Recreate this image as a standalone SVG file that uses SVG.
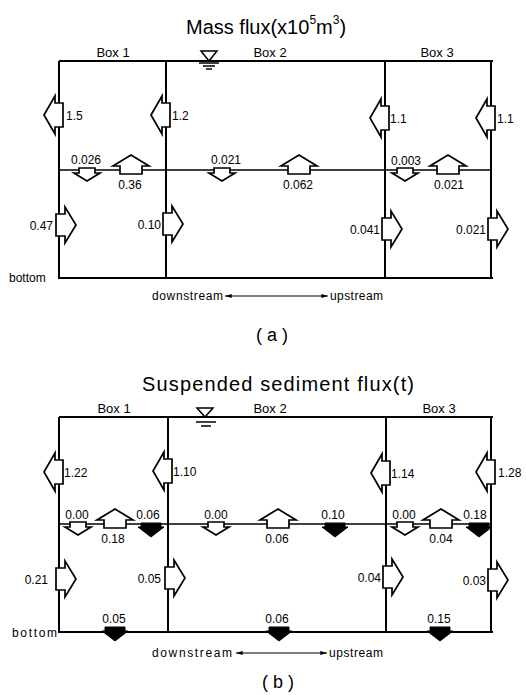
<svg xmlns="http://www.w3.org/2000/svg" width="526" height="695" viewBox="0 0 526 695">
<style>
text{font-family:"Liberation Sans","DejaVu Sans",Arial,sans-serif;fill:#000}
.t{font-size:20px}
.p{font-size:18px}
.b{font-size:13px}
.n{font-size:12px}
.c{text-anchor:middle}
.e{text-anchor:end}
.fr{fill:none;stroke:#000;stroke-width:2}
.mid{fill:none;stroke:#000;stroke-width:1.3}
.ar{fill:#fff;stroke:#000;stroke-width:1.7;stroke-linejoin:miter}
.af{fill:#000;stroke:#000;stroke-width:1}
.ws{fill:none;stroke:#000;stroke-width:1.5}
</style>
<defs>
<path id="aL" d="M-15,0 L-4,-19 L-4,-12 L4,-12 L4,12 L-4,12 L-4,19 Z"/>
<path id="aR" d="M-3,-11 L6,-11 L6,-18 L17,0 L6,18 L6,11 L-3,11 Z"/>
<path id="aU" d="M0,-15 L18,-4 L11,-4 L11,4 L-11,4 L-11,-4 L-18,-4 Z"/>
<path id="aD" d="M-8,-2 L8,-2 L8,3 L13,3 L0,11 L-13,3 L-8,3 Z"/>
<path id="aF" d="M-10,-1 L10,-1 L10,3 L13,3 L0,13 L-13,3 L-10,3 Z"/>
<path id="aB" d="M-10,-5 L10,-5 L10,-1 L13,-1 L0,9 L-13,-1 L-10,-1 Z"/>
<marker id="mh" viewBox="0 0 10 6" refX="10" refY="3" markerWidth="7" markerHeight="4" orient="auto-start-reverse" markerUnits="userSpaceOnUse">
<path d="M0,0 L10,3 L0,6 Z" fill="#000"/>
</marker>
</defs>

<!-- ===== Panel (a) ===== -->
<text class="t" x="186" y="34">Mass flux(x10<tspan font-size="12" dy="-10">5</tspan><tspan dy="10">m</tspan><tspan font-size="12" dy="-10">3</tspan><tspan dy="10">)</tspan></text>
<g id="a-frame">
<path class="fr" d="M59,61 H493 M59,61 V278 H493 M166,61 V278 M385,61 V278 M491,61 V278"/>
<path class="mid" d="M59,170 H491"/>
</g>
<g id="a-labels">
<text class="b c" x="113" y="57">Box 1</text>
<text class="b c" x="270" y="57">Box 2</text>
<text class="b c" x="437" y="57">Box 3</text>
<text class="n" x="9" y="282">bottom</text>
</g>
<g id="a-water">
<path class="ws" d="M201,51 H217 L209,61 Z M199,63 H219 M203,66 H215 M206,69 H212"/>
</g>
<g id="a-up1"><use href="#aL" class="ar" transform="translate(59,115)"/><text class="n" x="66" y="120">1.5</text></g>
<g id="a-up2"><use href="#aL" class="ar" transform="translate(166,115)"/><text class="n" x="172" y="120">1.2</text></g>
<g id="a-up3"><use href="#aL" class="ar" transform="translate(385,118)"/><text class="n" x="390" y="123">1.1</text></g>
<g id="a-up4"><use href="#aL" class="ar" transform="translate(491,118)"/><text class="n" x="497" y="123">1.1</text></g>
<g id="a-lo1"><use href="#aR" class="ar" transform="translate(59,225)"/><text class="n e" x="53" y="230">0.47</text></g>
<g id="a-lo2"><use href="#aR" class="ar" transform="translate(166,224)"/><text class="n e" x="161" y="229">0.10</text></g>
<g id="a-lo3"><use href="#aR" class="ar" transform="translate(385,229)"/><text class="n e" x="380" y="234">0.041</text></g>
<g id="a-lo4"><use href="#aR" class="ar" transform="translate(491,229)"/><text class="n e" x="486" y="234">0.021</text></g>
<g id="a-d1"><use href="#aD" class="ar" transform="translate(87,170)"/><text class="n c" x="86" y="164">0.026</text></g>
<g id="a-u1"><use href="#aU" class="ar" transform="translate(131,170)"/><text class="n c" x="130" y="189">0.36</text></g>
<g id="a-d2"><use href="#aD" class="ar" transform="translate(222,170)"/><text class="n c" x="226" y="164">0.021</text></g>
<g id="a-u2"><use href="#aU" class="ar" transform="translate(299,170)"/><text class="n c" x="298" y="189">0.062</text></g>
<g id="a-d3"><use href="#aD" class="ar" transform="translate(405,170)"/><text class="n c" x="406" y="165">0.003</text></g>
<g id="a-u3"><use href="#aU" class="ar" transform="translate(448,170)"/><text class="n c" x="449" y="189">0.021</text></g>
<g id="a-connectors">
<line x1="225" y1="296" x2="328" y2="296" stroke="#000" stroke-width="1.2" marker-start="url(#mh)" marker-end="url(#mh)"/>
</g>
<text class="n" x="152" y="300" textLength="71">downstream</text>
<text class="n" x="330" y="300" textLength="53">upstream</text>
<text class="p c" x="272" y="341">( a )</text>

<!-- ===== Panel (b) ===== -->
<text class="t c" x="278" y="391" textLength="272">Suspended sediment flux(t)</text>
<g id="b-frame">
<path class="fr" d="M59,417 H493 M59,417 V632 H493 M168,417 V632 M386,417 V632 M491,417 V632"/>
<path class="mid" d="M59,524 H491"/>
</g>
<g id="b-labels">
<text class="b c" x="114" y="413">Box 1</text>
<text class="b c" x="270" y="413">Box 2</text>
<text class="b c" x="439" y="413">Box 3</text>
<text class="n" x="12" y="637" textLength="45">bottom</text>
</g>
<g id="b-water">
<path class="ws" d="M197,408 H213 L205,417 Z M196,422 H216 M201,426 H211"/>
</g>
<g id="b-up1"><use href="#aL" class="ar" transform="translate(59,472)"/><text class="n" x="64" y="477">1.22</text></g>
<g id="b-up2"><use href="#aL" class="ar" transform="translate(168,471)"/><text class="n" x="173" y="476">1.10</text></g>
<g id="b-up3"><use href="#aL" class="ar" transform="translate(386,473)"/><text class="n" x="391" y="478">1.14</text></g>
<g id="b-up4"><use href="#aL" class="ar" transform="translate(491,472)"/><text class="n" x="498" y="477">1.28</text></g>
<g id="b-lo1"><use href="#aR" class="ar" transform="translate(59,579)"/><text class="n e" x="48" y="584">0.21</text></g>
<g id="b-lo2"><use href="#aR" class="ar" transform="translate(168,578)"/><text class="n e" x="161" y="583">0.05</text></g>
<g id="b-lo3"><use href="#aR" class="ar" transform="translate(386,577)"/><text class="n e" x="381" y="582">0.04</text></g>
<g id="b-lo4"><use href="#aR" class="ar" transform="translate(491,580)"/><text class="n e" x="486" y="585">0.03</text></g>
<g id="b-d1"><use href="#aD" class="ar" transform="translate(78,524)"/><text class="n c" x="77" y="519">0.00</text></g>
<g id="b-u1"><use href="#aU" class="ar" transform="translate(115,524)"/><text class="n c" x="113" y="543">0.18</text></g>
<g id="b-f1"><use href="#aF" class="af" transform="translate(151,524)"/><text class="n c" x="148" y="519">0.06</text></g>
<g id="b-d2"><use href="#aD" class="ar" transform="translate(216,524)"/><text class="n c" x="216" y="519">0.00</text></g>
<g id="b-u2"><use href="#aU" class="ar" transform="translate(278,524)"/><text class="n c" x="277" y="543">0.06</text></g>
<g id="b-f2"><use href="#aF" class="af" transform="translate(335,524)"/><text class="n c" x="333" y="519">0.10</text></g>
<g id="b-d3"><use href="#aD" class="ar" transform="translate(405,524)"/><text class="n c" x="404" y="519">0.00</text></g>
<g id="b-u3"><use href="#aU" class="ar" transform="translate(441,524)"/><text class="n c" x="441" y="543">0.04</text></g>
<g id="b-f3"><use href="#aF" class="af" transform="translate(479,524)"/><text class="n c" x="475" y="519">0.18</text></g>
<g id="b-s1"><use href="#aB" class="af" transform="translate(115,632)"/><text class="n c" x="114" y="623">0.05</text></g>
<g id="b-s2"><use href="#aB" class="af" transform="translate(279,632)"/><text class="n c" x="277" y="623">0.06</text></g>
<g id="b-s3"><use href="#aB" class="af" transform="translate(440,632)"/><text class="n c" x="439" y="623">0.15</text></g>
<g id="b-connectors">
<line x1="236" y1="653" x2="327" y2="653" stroke="#000" stroke-width="1.2" marker-start="url(#mh)" marker-end="url(#mh)"/>
</g>
<text class="n" x="152" y="657" textLength="80">downstream</text>
<text class="n" x="329" y="657" textLength="54">upstream</text>
<text class="p c" x="278" y="688">( b )</text>
</svg>
